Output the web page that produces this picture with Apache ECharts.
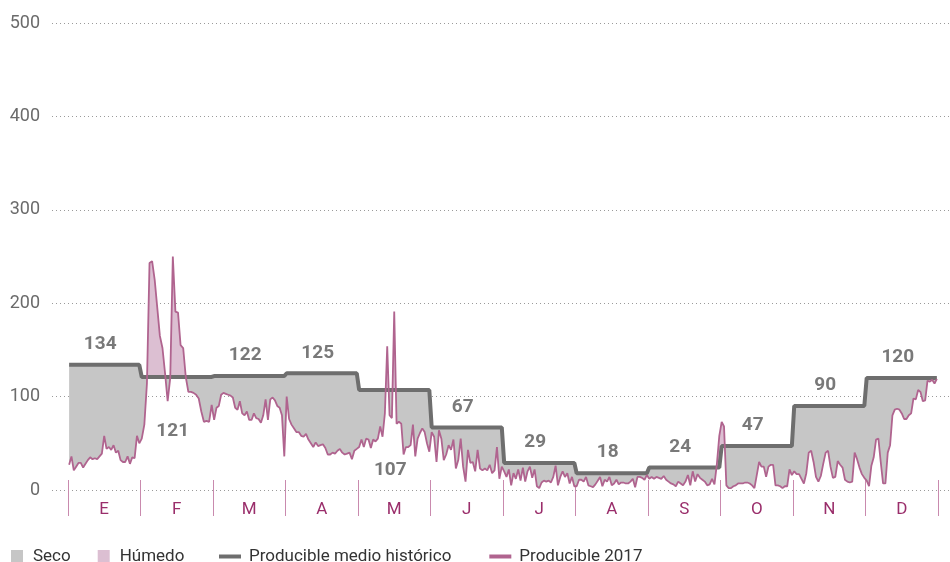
<!DOCTYPE html>
<html>
<head>
<meta charset="utf-8">
<script src="https://cdn.jsdelivr.net/npm/echarts@6.0.0/dist/echarts.min.js"></script>
<style>
html, body { margin: 0; padding: 0; background: #fff; }
#chart { width: 950px; height: 562px; }
</style>
</head>
<body>
<div id="chart"></div>
<script>
var meses = ['E', 'F', 'M', 'A', 'M', 'J', 'J', 'A', 'S', 'O', 'N', 'D'];
var diasMes = [31, 28, 31, 30, 31, 30, 31, 31, 30, 31, 30, 31];
// producible medio historico por mes
var historico = [134, 121, 122, 125, 107, 67, 29, 18, 24, 47, 90, 120];
var yTicks = [0, 100, 200, 300, 400, 500];

// producible 2017, diario
var ene = [27, 36, 21, 25, 29, 29, 24, 28, 32, 35, 33, 34, 33, 36, 39, 58, 44, 46, 43, 48, 40, 42, 32, 30, 30, 36, 28, 35, 34, 58, 50];
var feb = [55, 70, 114, 243, 245, 225, 195, 165, 152, 125, 95, 120, 250, 191, 190, 155, 152, 121, 105, 105, 104, 102, 98, 84, 73, 74, 73, 91];
var mar = [75, 88, 90, 102, 104, 103, 102, 101, 99, 88, 86, 95, 82, 80, 84, 75, 75, 82, 77, 76, 72, 80, 97, 75, 97, 99, 96, 90, 88, 80, 36];
var abr = [100, 76, 70, 66, 62, 62, 58, 57, 60, 54, 50, 46, 51, 47, 48, 49, 45, 38, 38, 40, 39, 42, 44, 40, 38, 39, 40, 33, 42, 44];
var may = [46, 54, 46, 55, 54, 45, 54, 52, 55, 68, 57, 82, 154, 80, 77, 191, 71, 73, 71, 38, 46, 46, 48, 70, 36, 55, 61, 66, 62, 50, 41];
var jun = [62, 57, 30, 64, 55, 32, 38, 48, 43, 54, 23, 32, 55, 25, 9, 43, 29, 30, 20, 43, 23, 21, 23, 21, 27, 18, 21, 46, 12, 25];
var jul = [20, 14, 22, 5, 18, 12, 22, 10, 24, 9, 20, 25, 13, 22, 4, 2, 8, 10, 9, 10, 8, 14, 26, 5, 14, 20, 14, 18, 7, 14, 4];
var ago = [4, 11, 11, 9, 14, 5, 4, 3, 6, 10, 14, 4, 11, 9, 14, 5, 7, 11, 6, 8, 8, 7, 7, 9, 12, 3, 14, 14, 13, 11, 16];
var sep = [12, 14, 12, 14, 13, 12, 15, 11, 9, 7, 6, 4, 9, 7, 5, 9, 16, 5, 20, 9, 17, 13, 11, 9, 5, 6, 12, 6, 28, 58];
var oct = [73, 68, 5, 2, 2, 4, 5, 7, 7, 7, 8, 8, 7, 5, 2, 16, 30, 25, 25, 14, 25, 27, 27, 5, 5, 4, 2, 4, 4, 22, 16];
var nov = [20, 17, 17, 12, 7, 18, 40, 42, 30, 14, 9, 15, 28, 40, 42, 25, 13, 14, 31, 27, 24, 11, 9, 8, 9, 40, 33, 24, 17, 13];
var dic = [10, 4, 26, 35, 54, 55, 30, 7, 7, 40, 48, 80, 86, 87, 86, 82, 76, 76, 80, 82, 98, 97, 107, 105, 95, 96, 117, 116, 118, 114, 119];

var porMes = [ene, feb, mar, abr, may, jun, jul, ago, sep, oct, nov, dic];

// eje x en meses (todos del mismo ancho); cada dia en su fraccion del mes
var producible = [], medio = [], xDia = [];
var limitesMes = [], centroMes = [];
porMes.forEach(function (dias, m) {
    dias.forEach(function (v, d) {
        producible.push(v);
        medio.push(historico[m]);
        xDia.push(m + (d + 0.5) / dias.length);
    });
    limitesMes.push(m);
    centroMes.push(m + 0.5);
});
limitesMes.push(12);

var GRIS = '#c6c6c6';
var ROSA = '#dcbfd2';
var LINEA_ROSA = '#b0648f';
var LINEA_GRIS = '#6e6e6e';
var FUENTE = 'Roboto, "Liberation Sans", sans-serif';

// puntos con cortes entre producible y medio, para rellenar entre ambas curvas
function puntosCorte() {
    var pts = [];
    for (var i = 0; i < producible.length; i++) {
        var d = producible[i], h = medio[i];
        pts.push([xDia[i], d, h]);
        if (i < producible.length - 1) {
            var a = d - h, b = producible[i + 1] - medio[i + 1];
            if (a * b < 0) {
                var t = a / (a - b);
                var y = d + t * (producible[i + 1] - d);
                pts.push([xDia[i] + t * (xDia[i + 1] - xDia[i]), y, y]);
            }
        }
    }
    return pts;
}
var cortes = puntosCorte();

function relleno(tipo, color) {
    return function (params, api) {
        if (params.dataIndex !== 0) return null;
        var arriba = [], abajo = [];
        cortes.forEach(function (p) {
            var lo = Math.min(p[1], p[2]), hi = Math.max(p[1], p[2]);
            if (tipo === 'seco') {
                arriba.push(api.coord([p[0], p[2]]));
                abajo.push(api.coord([p[0], lo]));
            } else {
                arriba.push(api.coord([p[0], hi]));
                abajo.push(api.coord([p[0], p[2]]));
            }
        });
        return {
            type: 'polygon',
            shape: { points: arriba.concat(abajo.reverse()) },
            style: { fill: color }
        };
    };
}

// etiquetas que van debajo de la linea (distancia en px)
var etiquetaAbajo = { 1: 45, 4: 71 };

var chart = echarts.init(document.getElementById('chart'));
chart.setOption({
    animation: false,
    textStyle: { fontFamily: FUENTE },
    grid: { left: 52, right: 0, top: 23, bottom: 72 },
    legend: [{
        left: 6, top: 543,
        icon: 'rect', itemWidth: 12, itemHeight: 13, itemGap: 27,
        textStyle: { fontSize: 17, color: '#333', fontFamily: FUENTE, padding: [0, 0, 0, 5] },
        data: [
            { name: 'Seco', itemStyle: { color: GRIS } },
            { name: 'Húmedo', itemStyle: { color: ROSA } }
        ]
    }, {
        left: 214, top: 543,
        icon: 'rect', itemWidth: 22, itemHeight: 4, itemGap: 38,
        textStyle: { fontSize: 17, color: '#333', fontFamily: FUENTE, padding: [0, 0, 0, 3] },
        data: [
            { name: 'Producible medio histórico', itemStyle: { color: LINEA_GRIS } },
            { name: 'Producible 2017', itemStyle: { color: LINEA_ROSA } }
        ]
    }],
    xAxis: {
        type: 'value', min: -0.22, max: 12.165, offset: -10,
        axisLine: { show: false },
        splitLine: { show: false },
        axisTick: {
            show: true, length: 36, customValues: limitesMes,
            lineStyle: { color: '#c98aae', width: 1 }
        },
        axisLabel: {
            customValues: centroMes, margin: 21,
            fontSize: 17, color: '#9a2e6b', fontFamily: FUENTE,
            formatter: function (v) {
                var m = Math.floor(v);
                return meses[m] || '';
            }
        }
    },
    yAxis: {
        type: 'value', min: yTicks[0], max: yTicks[yTicks.length - 1], interval: 100,
        axisLine: { show: false }, axisTick: { show: false },
        axisLabel: { fontSize: 18, color: '#6b6b6b', margin: 12, fontFamily: FUENTE },
        splitLine: { lineStyle: { type: [1, 3], color: '#9a9a9a', width: 1 } }
    },
    series: [{
        name: 'Seco', type: 'custom', z: 1,
        itemStyle: { color: GRIS },
        encode: { x: 0, y: [1, 2] },
        renderItem: relleno('seco', GRIS),
        data: producible.map(function (v, i) { return [xDia[i], v, medio[i]]; })
    }, {
        name: 'Húmedo', type: 'custom', z: 1,
        itemStyle: { color: ROSA },
        encode: { x: 0, y: [1, 2] },
        renderItem: relleno('humedo', ROSA),
        data: producible.map(function (v, i) { return [xDia[i], v, medio[i]]; })
    }, {
        name: 'Producible medio histórico', type: 'line', z: 3,
        showSymbol: false, symbol: 'none',
        itemStyle: { color: LINEA_GRIS },
        lineStyle: { color: LINEA_GRIS, width: 4 },
        data: medio.map(function (v, i) { return [xDia[i], v]; })
    }, {
        name: 'Producible 2017', type: 'line', z: 4,
        showSymbol: false, symbol: 'none',
        itemStyle: { color: LINEA_ROSA },
        lineStyle: { color: LINEA_ROSA, width: 1.8 },
        data: producible.map(function (v, i) { return [xDia[i], v]; })
    }, {
        name: 'etiquetas', type: 'scatter', z: 5, symbolSize: 0, silent: true,
        label: {
            show: true, position: 'top', distance: 11, offset: [-4, 0],
            fontSize: 19, fontWeight: 'bold', color: '#575757', fontFamily: FUENTE,
            formatter: function (p) { return p.value[1]; }
        },
        data: historico.map(function (v, m) {
            var item = { value: [centroMes[m], v] };
            if (etiquetaAbajo[m]) {
                item.label = { position: 'bottom', distance: etiquetaAbajo[m] };
            }
            return item;
        })
    }]
});
</script>
</body>
</html>
